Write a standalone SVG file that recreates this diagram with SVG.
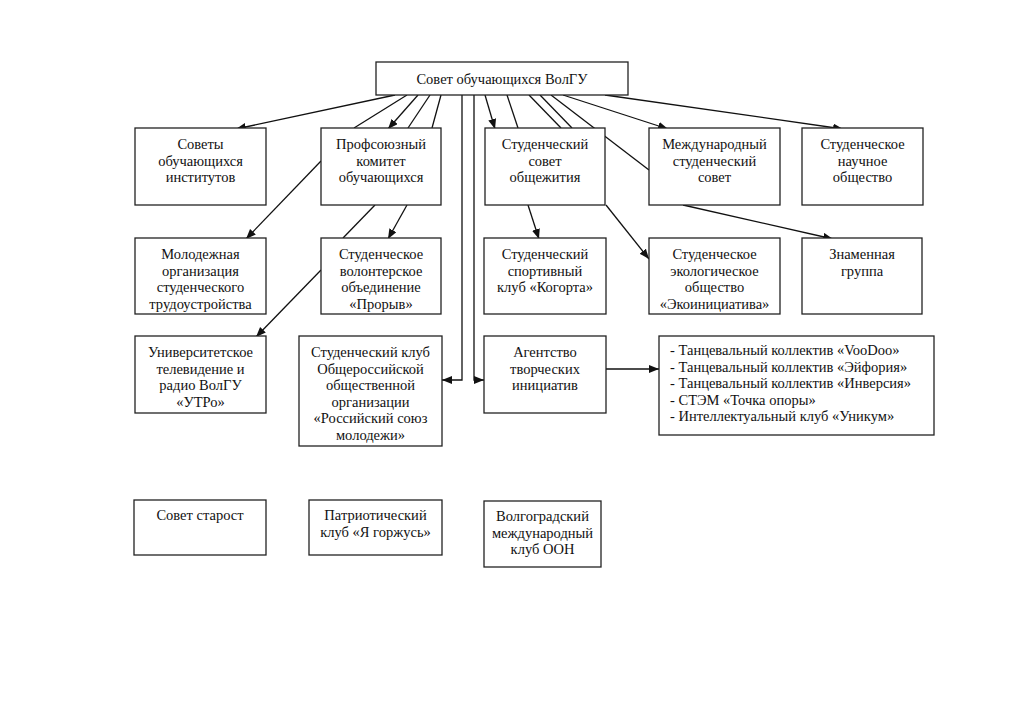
<svg xmlns="http://www.w3.org/2000/svg" width="1024" height="724" viewBox="0 0 1024 724">
<style>
.box{fill:#fff;stroke:#222;stroke-width:1.3}
.ln{fill:none;stroke:#111;stroke-width:1.3}
.ar{marker-end:url(#ah)}
text{font-family:"Liberation Serif","Times New Roman",serif;font-size:14.5px;fill:#111}
.c{text-anchor:middle}
</style>
<defs>
<marker id="ah" markerUnits="userSpaceOnUse" markerWidth="11" markerHeight="9" refX="10" refY="4" orient="auto">
<path d="M0,0 L10,4 L0,8 z" fill="#111"/>
</marker>
</defs>
<rect width="1024" height="724" fill="#fff"/>
<g id="connectors">
<line class="ln ar" x1="395" y1="95" x2="236" y2="129"/>
<line class="ln" x1="407" y1="95" x2="354" y2="128"/>
<line class="ln ar" x1="418" y1="95" x2="388" y2="129"/>
<line class="ln" x1="430" y1="95" x2="408" y2="128"/>
<line class="ln" x1="441" y1="95" x2="432" y2="128"/>
<polyline class="ln ar" points="462,95 462,380 442,380"/>
<polyline class="ln ar" points="474,95 474,380 484,380"/>
<line class="ln ar" x1="485" y1="95" x2="495" y2="129"/>
<line class="ln" x1="507" y1="95" x2="518" y2="128"/>
<line class="ln" x1="529" y1="95" x2="561" y2="128"/>
<line class="ln" x1="540" y1="95" x2="572" y2="128"/>
<line class="ln" x1="551" y1="95" x2="649" y2="170"/>
<line class="ln ar" x1="563" y1="95" x2="668" y2="129"/>
<line class="ln ar" x1="605" y1="95" x2="843" y2="129"/>
<line class="ln ar" x1="321" y1="161" x2="246" y2="239"/>
<line class="ln" x1="375" y1="205" x2="343" y2="238"/>
<line class="ln ar" x1="407" y1="205" x2="388" y2="239"/>
<line class="ln ar" x1="321" y1="270" x2="256" y2="337"/>
<line class="ln ar" x1="528" y1="205" x2="539" y2="239"/>
<line class="ln ar" x1="606" y1="205" x2="649" y2="259"/>
<line class="ln ar" x1="683" y1="205" x2="833" y2="239"/>
<line class="ln ar" x1="606" y1="369" x2="659" y2="369"/>
</g>
<g id="n-top"><rect class="box" x="376" y="62" width="252" height="33"/><text class="c" x="502" y="84">Совет обучающихся ВолГУ</text></g>
<g id="n-a1"><rect class="box" x="135" y="128" width="131" height="77"/><text class="c" x="200.5" y="149">Советы</text><text class="c" x="200.5" y="165.5">обучающихся</text><text class="c" x="200.5" y="182">институтов</text></g>
<g id="n-b1"><rect class="box" x="321" y="128" width="120" height="77"/><text class="c" x="381" y="149">Профсоюзный</text><text class="c" x="381" y="165.5">комитет</text><text class="c" x="381" y="182">обучающихся</text></g>
<g id="n-c1"><rect class="box" x="485" y="128" width="120" height="77"/><text class="c" x="545" y="149">Студенческий</text><text class="c" x="545" y="165.5">совет</text><text class="c" x="545" y="182">общежития</text></g>
<g id="n-d1"><rect class="box" x="649" y="128" width="131" height="77"/><text class="c" x="714.5" y="149">Международный</text><text class="c" x="714.5" y="165.5">студенческий</text><text class="c" x="714.5" y="182">совет</text></g>
<g id="n-e1"><rect class="box" x="802" y="128" width="121" height="77"/><text class="c" x="862.5" y="149">Студенческое</text><text class="c" x="862.5" y="165.5">научное</text><text class="c" x="862.5" y="182">общество</text></g>
<g id="n-a2"><rect class="box" x="135" y="238" width="131" height="76"/><text class="c" x="200.5" y="259">Молодежная</text><text class="c" x="200.5" y="275.5">организация</text><text class="c" x="200.5" y="292">студенческого</text><text class="c" x="200.5" y="308.5">трудоустройства</text></g>
<g id="n-b2"><rect class="box" x="321" y="238" width="120" height="76"/><text class="c" x="381" y="259">Студенческое</text><text class="c" x="381" y="275.5">волонтерское</text><text class="c" x="381" y="292">объединение</text><text class="c" x="381" y="308.5">«Прорыв»</text></g>
<g id="n-c2"><rect class="box" x="484" y="238" width="122" height="76"/><text class="c" x="545" y="259">Студенческий</text><text class="c" x="545" y="275.5">спортивный</text><text class="c" x="545" y="292">клуб «Когорта»</text></g>
<g id="n-d2"><rect class="box" x="649" y="238" width="131" height="76"/><text class="c" x="714.5" y="259">Студенческое</text><text class="c" x="714.5" y="275.5">экологическое</text><text class="c" x="714.5" y="292">общество</text><text class="c" x="714.5" y="308.5">«Экоинициатива»</text></g>
<g id="n-e2"><rect class="box" x="802" y="238" width="120" height="76"/><text class="c" x="862" y="259">Знаменная</text><text class="c" x="862" y="275.5">группа</text></g>
<g id="n-a3"><rect class="box" x="135" y="336" width="131" height="77"/><text class="c" x="200.5" y="357">Университетское</text><text class="c" x="200.5" y="373.5">телевидение и</text><text class="c" x="200.5" y="390">радио ВолГУ</text><text class="c" x="200.5" y="406.5">«УТРо»</text></g>
<g id="n-b3"><rect class="box" x="299" y="336" width="143" height="110"/><text class="c" x="370.5" y="357">Студенческий клуб</text><text class="c" x="370.5" y="373.5">Общероссийской</text><text class="c" x="370.5" y="390">общественной</text><text class="c" x="370.5" y="406.5">организации</text><text class="c" x="370.5" y="423">«Российский союз</text><text class="c" x="370.5" y="439.5">молодежи»</text></g>
<g id="n-c3"><rect class="box" x="484" y="336" width="122" height="77"/><text class="c" x="545" y="357">Агентство</text><text class="c" x="545" y="373.5">творческих</text><text class="c" x="545" y="390">инициатив</text></g>
<g id="n-d3"><rect class="box" x="659" y="336" width="275" height="99"/><text x="670" y="355">- Танцевальный коллектив «VooDoo»</text><text x="670" y="371.6">- Танцевальный коллектив «Эйфория»</text><text x="670" y="388.2">- Танцевальный коллектив «Инверсия»</text><text x="670" y="404.8">- СТЭМ «Точка опоры»</text><text x="670" y="421.4">- Интеллектуальный клуб «Уникум»</text></g>
<g id="n-a4"><rect class="box" x="134" y="500" width="132" height="55"/><text class="c" x="200" y="520">Совет старост</text></g>
<g id="n-b4"><rect class="box" x="309" y="500" width="133" height="55"/><text class="c" x="375.5" y="520">Патриотический</text><text class="c" x="375.5" y="536.5">клуб «Я горжусь»</text></g>
<g id="n-c4"><rect class="box" x="484" y="501" width="117" height="66"/><text class="c" x="542.5" y="521">Волгоградский</text><text class="c" x="542.5" y="537.5">международный</text><text class="c" x="542.5" y="554">клуб ООН</text></g>
</svg>
